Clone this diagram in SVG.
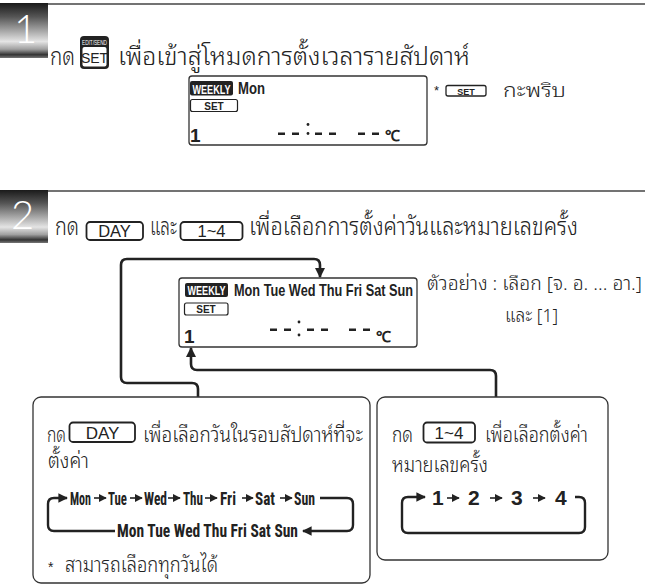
<svg xmlns="http://www.w3.org/2000/svg" width="651" height="586" viewBox="0 0 651 586">
<defs>
<linearGradient id="badge" x1="0" y1="0" x2="0" y2="1">
<stop offset="0" stop-color="#1a1a1a"/>
<stop offset="0.25" stop-color="#555"/>
<stop offset="0.7" stop-color="#e4e4e4"/>
<stop offset="0.84" stop-color="#a0a0a0"/>
<stop offset="0.94" stop-color="#333"/>
<stop offset="1" stop-color="#777"/>
</linearGradient>
<marker id="ah" viewBox="0 0 10 10" refX="9" refY="5" markerWidth="4" markerHeight="4" orient="auto" markerUnits="strokeWidth">
<path d="M0,0 L10,5 L0,10 Z" fill="#222"/>
</marker>
<marker id="as" viewBox="0 0 10 10" refX="9" refY="5" markerWidth="5" markerHeight="5" orient="auto" markerUnits="strokeWidth">
<path d="M0,0 L10,5 L0,10 Z" fill="#222"/>
</marker>
</defs>
<style>
.th{font-family:"Noto Sans Thai Looped","Noto Sans Thai",Loma,Garuda,"Noto Sans","DejaVu Sans",sans-serif;font-weight:300;fill:#222}
.lat{font-family:"Liberation Sans",Arial,sans-serif;fill:#222}
.cnd{font-family:"Liberation Sans Narrow","Roboto Condensed","Liberation Sans",sans-serif;font-weight:bold;fill:#222}
.num{font-family:Lato,"Open Sans","Liberation Sans",sans-serif;font-weight:300;fill:#fff;font-size:40px}
.key{fill:#fff;stroke:#222;stroke-width:1.8}
.box{fill:#fff;stroke:#333;stroke-width:1.3}
.conn{fill:none;stroke:#222;stroke-width:2.6}
.loop{fill:none;stroke:#222;stroke-width:2.4}
.sm{fill:none;stroke:#222;stroke-width:1.6}
.rule{stroke:#444;stroke-width:1.5}
.inv{fill:#222}
.lcdtxt{font-family:"Liberation Sans Narrow","Liberation Sans",sans-serif;font-weight:bold;fill:#222}
</style>

<!-- Step 1 -->
<g id="step1">
<line class="rule" x1="48" y1="4" x2="645" y2="4"/>
<rect x="0" y="3" width="48" height="55" fill="url(#badge)"/>
<text class="num" x="14" y="43">1</text>
<text class="th" x="50" y="65" font-size="25" textLength="25" lengthAdjust="spacingAndGlyphs">กด</text>
<g id="key-editsend">
<rect x="80" y="36" width="29" height="33" rx="4" fill="#222"/>
<rect x="82.5" y="47" width="24" height="19.5" rx="2" fill="#fff"/>
<text class="lat" x="94.5" y="44.5" font-size="7" text-anchor="middle" style="fill:#fff" textLength="25" lengthAdjust="spacingAndGlyphs">EDIT/SEND</text>
<text class="lat" x="94.5" y="62.5" font-size="14" text-anchor="middle">SET</text>
</g>
<text class="th" x="118" y="65" font-size="25" textLength="352" lengthAdjust="spacingAndGlyphs">เพื่อเข้าสู่โหมดการตั้งเวลารายสัปดาห์</text>
</g>

<g id="lcd1">
<rect class="box" x="189" y="76" width="238" height="69" rx="3"/>
<rect class="inv" x="190" y="81" width="43" height="14.5" rx="2"/>
<text class="lcdtxt" x="211.5" y="93.5" font-size="13" text-anchor="middle" style="fill:#fff" textLength="38" lengthAdjust="spacingAndGlyphs">WEEKLY</text>
<text class="lcdtxt" x="238" y="94" font-size="17" textLength="27" lengthAdjust="spacingAndGlyphs">Mon</text>
<rect x="190.5" y="99.5" width="47" height="12" rx="2" fill="#fff" stroke="#222" stroke-width="1.2"/>
<text class="lat" x="214" y="109.5" font-size="10" font-weight="bold" text-anchor="middle">SET</text>
<text class="lcdtxt" x="190" y="142" font-size="19">1</text>
<g fill="#222">
<rect x="278" y="132.5" width="7" height="2.5"/><rect x="292" y="132.5" width="7" height="2.5"/>
<circle cx="308" cy="124.5" r="1.4"/><circle cx="308" cy="133.5" r="1.4"/>
<rect x="315" y="132.5" width="7" height="2.5"/><rect x="329" y="132.5" width="7" height="2.5"/>
<rect x="358" y="132.5" width="7" height="2.5"/><rect x="372" y="132.5" width="7" height="2.5"/>
</g>
<text class="lat" x="385" y="141" font-size="15" font-weight="bold">℃</text>
</g>

<g id="note1">
<text class="lat" x="434" y="95" font-size="13">*</text>
<rect x="446" y="85.5" width="40" height="10.5" rx="2" fill="#fff" stroke="#222" stroke-width="1.3"/>
<text class="lat" x="466" y="94.5" font-size="9" font-weight="bold" text-anchor="middle">SET</text>
<text class="th" x="503" y="97" font-size="20" textLength="63" lengthAdjust="spacingAndGlyphs">กะพริบ</text>
</g>

<!-- Step 2 -->
<g id="step2">
<line class="rule" x1="48" y1="191" x2="645" y2="191"/>
<rect x="0" y="190" width="48" height="53" fill="url(#badge)"/>
<text class="num" x="11" y="229">2</text>
<text class="th" x="55" y="235" font-size="24" textLength="24" lengthAdjust="spacingAndGlyphs">กด</text>
<rect class="key" x="86.5" y="222" width="56.5" height="18" rx="3.5"/>
<text class="lat" x="114.5" y="236.5" font-size="16.5" text-anchor="middle">DAY</text>
<text class="th" x="150" y="235" font-size="24" textLength="27" lengthAdjust="spacingAndGlyphs">และ</text>
<rect class="key" x="180.5" y="222" width="62" height="18" rx="3.5"/>
<text class="lat" x="211.5" y="236.5" font-size="16.5" text-anchor="middle">1~4</text>
<text class="th" x="249" y="235" font-size="24" textLength="329" lengthAdjust="spacingAndGlyphs">เพื่อเลือกการตั้งค่าวันและหมายเลขครั้ง</text>
</g>

<g id="lcd2">
<rect class="box" x="179" y="278" width="238" height="69" rx="3"/>
<rect class="inv" x="185" y="283" width="43" height="14" rx="2"/>
<text class="lcdtxt" x="206.5" y="295" font-size="13" text-anchor="middle" style="fill:#fff" textLength="38" lengthAdjust="spacingAndGlyphs">WEEKLY</text>
<text class="lcdtxt" x="234" y="296" font-size="17" textLength="179" lengthAdjust="spacingAndGlyphs">Mon Tue Wed Thu Fri Sat Sun</text>
<rect x="184.5" y="303" width="43.5" height="12" rx="2" fill="#fff" stroke="#222" stroke-width="1.2"/>
<text class="lat" x="206" y="313" font-size="10" font-weight="bold" text-anchor="middle">SET</text>
<text class="lcdtxt" x="184" y="343" font-size="19">1</text>
<g fill="#222">
<rect x="270" y="328.5" width="7" height="2.5"/><rect x="284" y="328.5" width="7" height="2.5"/>
<circle cx="299" cy="322" r="1.4"/><circle cx="299" cy="335" r="1.4"/>
<rect x="307" y="328.5" width="7" height="2.5"/><rect x="321" y="328.5" width="7" height="2.5"/>
<rect x="349" y="328.5" width="7" height="2.5"/><rect x="363" y="328.5" width="7" height="2.5"/>
</g>
<text class="lat" x="376" y="342" font-size="15" font-weight="bold">℃</text>
</g>

<g id="example">
<text class="th" x="427" y="290" font-size="19" textLength="215" lengthAdjust="spacingAndGlyphs">ตัวอย่าง : เลือก [จ. อ. ... อา.]</text>
<text class="th" x="505" y="322" font-size="19" textLength="53" lengthAdjust="spacingAndGlyphs">และ [1]</text>
</g>

<!-- connectors -->
<g id="connectors">
<path class="conn" d="M198,397 V389 Q198,383 192,383 H127 Q121,383 121,377 V265 Q121,259 127,259 H314 Q320,259 320,265 V277" marker-end="url(#ah)"/>
<path class="conn" d="M496,397 V376 Q496,370 490,370 H197 Q191,370 191,364 V348" marker-end="url(#ah)"/>
</g>

<!-- left box -->
<g id="box-day">
<rect class="box" x="33" y="397" width="337" height="186" rx="8"/>
<text class="th" x="47" y="442" font-size="21" textLength="19" lengthAdjust="spacingAndGlyphs">กด</text>
<rect class="key" x="69.5" y="422.5" width="65.5" height="19.5" rx="3.5"/>
<text class="lat" x="102.5" y="438.5" font-size="17" text-anchor="middle">DAY</text>
<text class="th" x="143" y="442" font-size="21" textLength="220" lengthAdjust="spacingAndGlyphs">เพื่อเลือกวันในรอบสัปดาห์ที่จะ</text>
<text class="th" x="48" y="468" font-size="21" textLength="41" lengthAdjust="spacingAndGlyphs">ตั้งค่า</text>
<g class="cnd" font-size="19">
<text x="70" y="505" textLength="21" lengthAdjust="spacingAndGlyphs">Mon</text>
<text x="108" y="505" textLength="19" lengthAdjust="spacingAndGlyphs">Tue</text>
<text x="144" y="505" textLength="23" lengthAdjust="spacingAndGlyphs">Wed</text>
<text x="183" y="505" textLength="20" lengthAdjust="spacingAndGlyphs">Thu</text>
<text x="220" y="505" textLength="16" lengthAdjust="spacingAndGlyphs">Fri</text>
<text x="255" y="505" textLength="20" lengthAdjust="spacingAndGlyphs">Sat</text>
<text x="294" y="505" textLength="21" lengthAdjust="spacingAndGlyphs">Sun</text>
<text x="117" y="537" textLength="181" lengthAdjust="spacingAndGlyphs">Mon Tue Wed Thu Fri Sat Sun</text>
</g>
<g class="sm">
<path d="M94,498 H106" marker-end="url(#as)"/>
<path d="M130,498 H142" marker-end="url(#as)"/>
<path d="M168,498 H180" marker-end="url(#as)"/>
<path d="M205,498 H217" marker-end="url(#as)"/>
<path d="M242,498 H253" marker-end="url(#as)"/>
<path d="M280,498 H292" marker-end="url(#as)"/>
</g>
<path class="loop" d="M115,531 H54 Q48,531 48,525 V504 Q48,498 54,498 H67" marker-end="url(#ah)"/>
<path class="loop" d="M320,498 H347 Q353,498 353,504 V525 Q353,531 347,531 H303" marker-end="url(#ah)"/>
<text class="lat" x="48" y="572" font-size="14">*</text>
<text class="th" x="65" y="572" font-size="21" textLength="153" lengthAdjust="spacingAndGlyphs">สามารถเลือกทุกวันได้</text>
</g>

<!-- right box -->
<g id="box-num">
<rect class="box" x="377" y="397" width="231" height="163" rx="8"/>
<text class="th" x="392" y="442" font-size="21" textLength="21" lengthAdjust="spacingAndGlyphs">กด</text>
<rect class="key" x="423.5" y="422.5" width="51.5" height="20" rx="3.5"/>
<text class="lat" x="449" y="438.5" font-size="17" text-anchor="middle">1~4</text>
<text class="th" x="485" y="442" font-size="21" textLength="103" lengthAdjust="spacingAndGlyphs">เพื่อเลือกตั้งค่า</text>
<text class="th" x="392" y="472" font-size="21" textLength="96" lengthAdjust="spacingAndGlyphs">หมายเลขครั้ง</text>
<g class="cnd" font-size="21" style="font-family:'Liberation Sans',Arial,sans-serif">
<text x="432" y="505">1</text>
<text x="468" y="505">2</text>
<text x="511" y="505">3</text>
<text x="555" y="505">4</text>
</g>
<g class="sm">
<path d="M447,498 H459" marker-end="url(#as)"/>
<path d="M490,498 H502" marker-end="url(#as)"/>
<path d="M533,498 H545" marker-end="url(#as)"/>
</g>
<path class="loop" d="M575,497 H579 Q585,497 585,503 V527 Q585,533 579,533 H408 Q402,533 402,527 V503 Q402,497 408,497 H425" marker-end="url(#ah)"/>
</g>
</svg>
